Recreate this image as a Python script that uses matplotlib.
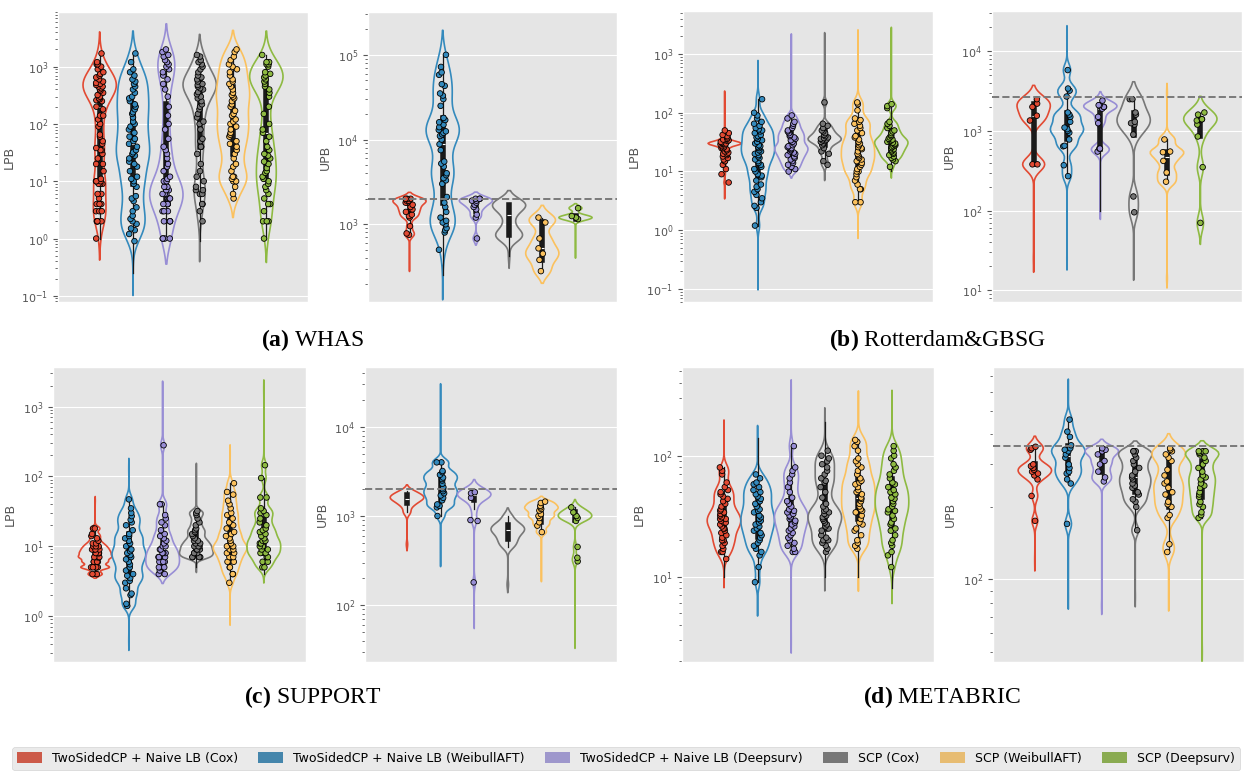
import numpy as np
import pandas as pd
import matplotlib
matplotlib.use("Agg")
import matplotlib.pyplot as plt
import seaborn as sns
from matplotlib.patches import Patch

plt.style.use("ggplot")
plt.rcParams["mathtext.fontset"] = "custom"
plt.rcParams["mathtext.rm"] = "Liberation Serif"
plt.rcParams["mathtext.bf"] = "Liberation Serif:bold"

methods = ["TwoSidedCP + Naive LB (Cox)", "TwoSidedCP + Naive LB (WeibullAFT)",
           "TwoSidedCP + Naive LB (Deepsurv)", "SCP (Cox)", "SCP (WeibullAFT)", "SCP (Deepsurv)"]
colors = ["#E24A33", "#348ABD", "#988ED5", "#777777", "#FBC15E", "#8EBA42"]

# points shown in the strip (a subsample); the violins use the shown points
# several times over plus the extra samples in the *_tail lists
whas_lpb_pts = [
    [1, 2, 2, 2, 2, 2, 3, 3, 3, 4, 4, 4, 4, 5, 6, 6, 9, 9, 9, 10, 10, 10, 11, 15, 20, 20, 25, 30, 35, 35, 38,
     45, 50, 60, 65, 90, 100, 120, 140, 140, 180, 200, 250, 260, 270, 280, 300, 320, 350, 380, 400, 420,
     450, 450, 480, 500, 520, 550, 600, 650, 700, 750, 800, 900, 1000, 1100, 1100, 1200, 1700],
    [0.9, 1.2, 1.4, 1.5, 1.8, 2, 2.2, 2.5, 3, 3.5, 4.5, 5, 5.5, 8, 9, 10, 11, 12, 15, 18, 20, 22, 25, 28, 30,
     32, 35, 40, 45, 50, 55, 60, 70, 80, 90, 100, 110, 130, 150, 160, 180, 200, 220, 250, 280, 300, 350,
     400, 450, 500, 550, 600, 700, 800, 900, 1200, 1700],
    [1, 1, 1, 1, 2, 2, 2, 2, 3, 3, 3, 4, 4, 4, 4, 5, 5, 5, 5, 6, 6, 6, 6, 7, 7, 8, 8, 8, 10, 10, 10, 11, 12,
     15, 18, 20, 25, 30, 35, 40, 55, 80, 100, 140, 200, 300, 400, 500, 600, 700, 800, 900, 1000, 1100,
     1200, 1300, 1500, 1600, 1800, 2000],
    [2, 3, 4, 4, 6, 6, 7, 7, 8, 10, 12, 15, 20, 30, 40, 40, 50, 55, 80, 100, 110, 130, 150, 180, 200, 220,
     250, 280, 300, 330, 360, 400, 420, 450, 480, 500, 550, 600, 650, 700, 800, 900, 1000, 1100, 1200,
     1300, 1500, 1600],
    [5, 6, 8, 10, 10, 11, 12, 12, 15, 18, 20, 25, 30, 35, 40, 45, 50, 60, 65, 70, 80, 90, 100, 110, 120,
     140, 150, 170, 200, 220, 250, 280, 300, 320, 350, 400, 450, 500, 550, 600, 700, 800, 900, 1000, 1100,
     1300, 1500, 1800, 2000],
    [1, 2, 2, 2, 3, 4, 4, 5, 6, 7, 8, 9, 10, 11, 12, 14, 15, 17, 20, 22, 25, 28, 30, 35, 40, 50, 60, 70,
     80, 100, 150, 200, 300, 350, 400, 450, 500, 550, 600, 650, 700, 750, 800, 1000, 1100, 1100, 1200,
     1200, 1600],
]
whas_lpb_tail = [[300, 400, 450, 500, 550, 600, 700] * 40, [0.25], [], [0.9] + [350, 450, 500, 550, 650] * 40,
                 [], [500, 600, 700, 800] * 30]

whas_upb_pts = [
    [750, 780, 950, 1200, 1250, 1300, 1400, 1500, 1500, 1600, 1700, 1800, 1800, 1900, 1900, 2000, 2000, 2000],
    [500, 800, 850, 900, 1000, 1050, 1100, 1200, 1400, 1600, 1800, 2100, 3000, 3300, 3500, 3800, 4000,
     4800, 5200, 5500, 7500, 8800, 10000, 11000, 11500, 12000, 12500, 13000, 14000, 15000, 16000, 17000,
     18000, 25000, 30000, 33000, 35000, 43000, 45000, 58000, 62000, 72000, 100000],
    [680, 1200, 1300, 1500, 1600, 1700, 1800, 1900, 1900, 2000, 2000, 2000],
    [],
    [280, 380, 450, 520, 680, 1050, 1200],
    [1150, 1200, 1250, 1550],
]
whas_upb_tail = [[330], [250], [],
                 [420] + [700, 700, 750, 800, 1000, 1300, 1500, 1700, 1700, 1800, 1800] * 5, [], [450]]

rot_lpb_pts = [
    [6.5, 9, 11, 13, 15, 15, 16, 17, 18, 19, 20, 20, 21, 22, 23, 24, 25, 25, 26, 27, 28, 29, 30, 30, 30,
     30, 31, 32, 33, 34, 35, 36, 38, 40, 42, 45, 50],
    [1.2, 2.4, 2.6, 3, 3.5, 4, 4.5, 5, 5.5, 6, 7, 8, 8.5, 9, 10, 11, 12, 13, 14, 15, 16, 17, 18, 19, 20,
     21, 22, 23, 25, 26, 27, 28, 30, 32, 34, 36, 38, 40, 42, 45, 48, 50, 52, 55, 60, 65, 70, 80, 90, 100, 170],
    [10, 11, 12, 13, 14, 15, 16, 17, 18, 19, 20, 21, 22, 23, 24, 25, 26, 27, 28, 30, 32, 34, 36, 38, 40,
     42, 45, 48, 50, 55, 60, 65, 70, 80, 90],
    [13, 15, 20, 22, 25, 28, 30, 32, 33, 34, 35, 36, 37, 38, 40, 42, 45, 48, 50, 55, 60, 65, 150],
    [3, 3, 5, 5, 6, 7, 8, 9, 10, 10, 11, 12, 13, 14, 15, 16, 17, 18, 19, 20, 22, 24, 25, 26, 28, 30, 32,
     35, 38, 40, 45, 50, 55, 60, 65, 70, 75, 80, 110, 140, 150],
    [12, 15, 16, 17, 18, 19, 20, 21, 22, 23, 24, 25, 26, 27, 28, 29, 30, 31, 32, 33, 34, 35, 36, 38, 40,
     42, 45, 48, 50, 55, 60, 65, 70, 120, 130, 140],
]
rot_lpb_tail = [[4, 200] + [30] * 300, [0.15, 500], [1700], [9, 1800], [1.1, 1700], [10, 2200]]

rot_upb_pts = [
    [380, 380, 1350, 1550, 2000, 2200, 2500],
    [270, 370, 640, 650, 780, 950, 1000, 1050, 1100, 1300, 1500, 1600, 1700, 2700, 3200, 3400, 5800],
    [550, 600, 600, 1250, 1500, 1900, 2000, 2000, 2100, 2100, 2400],
    [95, 150, 900, 1200, 1250, 1300, 1600, 1700, 2500, 2500],
    [230, 300, 420, 540, 550, 780],
    [70, 350, 850, 1200, 1350, 1400, 1400, 1600, 1700],
]
rot_upb_tail = [[25], [25, 15000], [100], [22], [14, 3000], [60]]

sup_lpb_pts = [
    [4, 4, 4, 5, 5, 5, 5, 5, 5, 6, 6, 6, 6, 6, 7, 7, 7, 7, 7, 7, 8, 8, 8, 8, 8, 9, 9, 9, 9, 10, 10, 10,
     11, 11, 12, 13, 14, 15, 18, 18],
    [1.4, 1.5, 2, 2.1, 2.5, 3, 3.2, 3.5, 3.8, 4, 4.5, 5, 5.5, 6, 6.5, 7, 7.5, 8, 8.5, 9, 10, 11, 12, 13,
     14, 15, 17, 20, 22, 24, 27, 30, 35, 47],
    [4, 4, 4.5, 5, 5, 5, 5, 6, 6, 6, 6, 7, 7, 7, 8, 8, 8, 9, 9, 10, 10, 11, 12, 13, 14, 15, 17, 20, 22,
     25, 28, 40, 40, 280],
    [7, 7, 7, 7, 8, 8, 8, 8, 9, 9, 9, 10, 10, 10, 11, 11, 12, 12, 13, 14, 15, 16, 17, 18, 20, 22, 25, 28,
     30, 32],
    [3, 4, 4, 5, 5, 6, 6, 7, 7, 8, 8, 9, 9, 10, 10, 10, 11, 12, 13, 14, 15, 16, 18, 20, 22, 25, 28, 30,
     35, 40, 45, 55, 60, 80],
    [5, 5, 6, 6, 7, 7, 8, 8, 8, 9, 9, 10, 10, 11, 11, 12, 12, 13, 14, 15, 16, 17, 18, 20, 22, 25, 28, 30,
     32, 35, 50, 50, 95, 145],
]
sup_lpb_tail = [[45], [0.45, 130], [1700], [5, 130], [1.0, 210], [4, 1800]]

sup_upb_pts = [
    [],
    [1000, 1250, 1300, 1350, 1500, 1600, 1700, 1800, 1900, 2000, 2100, 2300, 2500, 2600, 2700, 2900,
     3100, 3200, 4000, 4000],
    [180, 880, 900, 1600, 1800, 1850],
    [],
    [660, 780, 850, 950, 1000, 1050, 1150, 1200, 1250, 1300, 1400, 1450],
    [310, 340, 450, 880, 950, 1000, 1100, 1250],
]
sup_upb_tail = [[480] + [1100, 1300, 1400, 1500, 1550, 1600, 1650, 1700, 1800, 1900] * 5,
                [330, 25000], [70] + [1200, 1500, 1600, 1700, 1750, 1800, 1900, 2000] * 40,
                [170] + [450, 500, 550, 600, 650, 700, 700, 750, 800, 850, 1000] * 5, [210],
                [40] + [900, 950, 1000, 1050, 1100, 1200] * 40]

met_lpb_pts = [
    [14, 16, 16, 17, 18, 19, 20, 20, 21, 22, 23, 24, 25, 25, 26, 27, 28, 28, 29, 30, 30, 31, 32, 33, 34,
     35, 36, 38, 40, 42, 44, 46, 48, 50, 52, 55, 60, 70, 75, 80],
    [9, 12, 15, 16, 17, 18, 19, 20, 21, 22, 23, 24, 25, 26, 27, 28, 29, 30, 31, 32, 34, 35, 36, 38, 40,
     42, 44, 46, 48, 50, 52, 55, 58, 60, 65, 70],
    [16, 16, 17, 18, 19, 20, 21, 22, 23, 24, 25, 26, 27, 28, 29, 30, 31, 32, 33, 34, 35, 36, 38, 40, 42,
     45, 50, 55, 60, 65, 70, 75, 80, 120],
    [16, 17, 18, 19, 20, 20, 21, 22, 24, 25, 26, 27, 28, 29, 30, 31, 32, 33, 34, 35, 36, 38, 40, 45, 50,
     55, 60, 62, 65, 70, 75, 80, 85, 90, 95, 100, 110],
    [17, 18, 19, 20, 22, 24, 25, 27, 28, 30, 32, 34, 35, 36, 38, 40, 42, 44, 45, 48, 50, 52, 55, 58, 60,
     62, 65, 70, 75, 80, 85, 90, 95, 110, 120, 130, 135],
    [12, 15, 16, 18, 19, 20, 22, 24, 25, 27, 28, 30, 32, 34, 35, 36, 38, 40, 42, 44, 45, 48, 50, 52, 55,
     58, 60, 65, 70, 75, 80, 85, 95, 100, 110, 120],
]
met_lpb_tail = [[10, 160], [6, 140], [3, 330], [10, 190], [10, 260], [8, 260]]

met_upb_pts = [
    [175, 222, 260, 270, 275, 280, 285, 290, 295, 300, 345, 350, 355],
    [170, 250, 260, 275, 280, 290, 300, 320, 330, 340, 345, 350, 360, 390, 410, 460],
    [255, 265, 280, 300, 310, 330, 340, 345, 350],
    [160, 200, 210, 215, 225, 230, 240, 245, 250, 260, 265, 270, 280, 290, 300, 310, 320, 330, 340, 340, 340],
    [130, 140, 180, 185, 200, 205, 210, 225, 230, 240, 250, 255, 270, 285, 310, 320, 330, 340, 345, 350],
    [180, 185, 190, 200, 205, 210, 220, 225, 230, 240, 245, 250, 260, 265, 270, 280, 290, 300, 310, 320,
     330, 335, 340, 340, 340],
]
met_upb_tail = [[120], [85, 600], [78], [85], [85], [50]]

W, H = 1245, 772
REP = 20


def draw_panel(box, pts, tail, ylim, ylabel, ref=None, bw=0.8):
    l, t, r, b = box
    ax = fig.add_axes([l / W, 1 - b / H, (r - l) / W, (b - t) / H])
    rows = []
    for m, p, e in zip(methods, pts, tail):
        rows += [(m, v, True) for v in p]
        rows += [(m, v, False) for v in p * (REP - 1) + e]
    df = pd.DataFrame(rows, columns=["method", "value", "shown"])
    df["x"] = "all"
    sns.violinplot(data=df, x="x", y="value", hue="method", hue_order=methods, palette=colors,
                   dodge=True, fill=False, inner="box", log_scale=True, density_norm="width",
                   bw_adjust=bw, linewidth=1.2,
                   inner_kws=dict(box_width=4, whis_width=0.9, color="#1a1a1a", marker="_"),
                   legend=False, ax=ax)
    sns.stripplot(data=df[df["shown"]], x="x", y="value", hue="method", hue_order=methods,
                  palette=colors, dodge=True, jitter=True, size=4, linewidth=0.6, edgecolor="black",
                  legend=False, zorder=3, ax=ax)
    if ref is not None:
        ax.axhline(ref, color="#7a7a7a", ls="--", lw=1.4, zorder=4)
    ax.set_yscale("log")
    ax.set_ylim(*ylim)
    ax.set_xlim(-0.5, 0.5)
    ax.set_xticks([])
    ax.set_xlabel("")
    ax.set_ylabel(ylabel, fontsize=9, color="#555555")
    ax.tick_params(axis="y", labelsize=8, colors="#555555")
    return ax


fig = plt.figure(figsize=(W / 100, H / 100), dpi=100)

draw_panel((58, 12, 308, 302), whas_lpb_pts, whas_lpb_tail, (0.078, 9000), "LPB", bw=0.9)
draw_panel((368, 12, 617, 302), whas_upb_pts, whas_upb_tail, (121, 3.2e5), "UPB", 2000, bw=0.9)
draw_panel((683, 11, 933, 302), rot_lpb_pts, rot_lpb_tail, (0.06, 5400), "LPB", bw=0.8)
draw_panel((992, 11, 1242, 302), rot_upb_pts, rot_upb_tail, (7.1, 32000), "UPB", 2700, bw=0.66)
draw_panel((53, 367, 306, 662), sup_lpb_pts, sup_lpb_tail, (0.22, 3700), "LPB", bw=0.66)
draw_panel((365, 367, 617, 662), sup_upb_pts, sup_upb_tail, (23, 47000), "UPB", 2000, bw=0.8)
draw_panel((682, 367, 934, 662), met_lpb_pts, met_lpb_tail, (1.97, 541), "LPB", bw=0.9)
draw_panel((993, 367, 1244, 662), met_upb_pts, met_upb_tail, (45.5, 760), "UPB", 356, bw=0.8)

captions = [(313, 340, r"$\mathbf{(a)}$ WHAS"), (938, 340, r"$\mathbf{(b)}$ Rotterdam&GBSG"),
            (313, 697, r"$\mathbf{(c)}$ SUPPORT"), (942, 697, r"$\mathbf{(d)}$ METABRIC")]
for cx, cy, txt in captions:
    fig.text(cx / W, 1 - cy / H, txt, ha="center", va="center", fontsize=17,
             family="Liberation Serif", color="black")

handles = [Patch(facecolor=sns.desaturate(c, 0.75), edgecolor="none") for c in colors]
fig.legend(handles, methods, loc="lower left", bbox_to_anchor=(12 / W, 2 / H, 1228 / W, 26 / H),
           mode="expand", ncol=6, fontsize=9, borderaxespad=0, handlelength=2.0,
           handleheight=1.0, borderpad=0.4)

fig.savefig("out.png", dpi=100)
